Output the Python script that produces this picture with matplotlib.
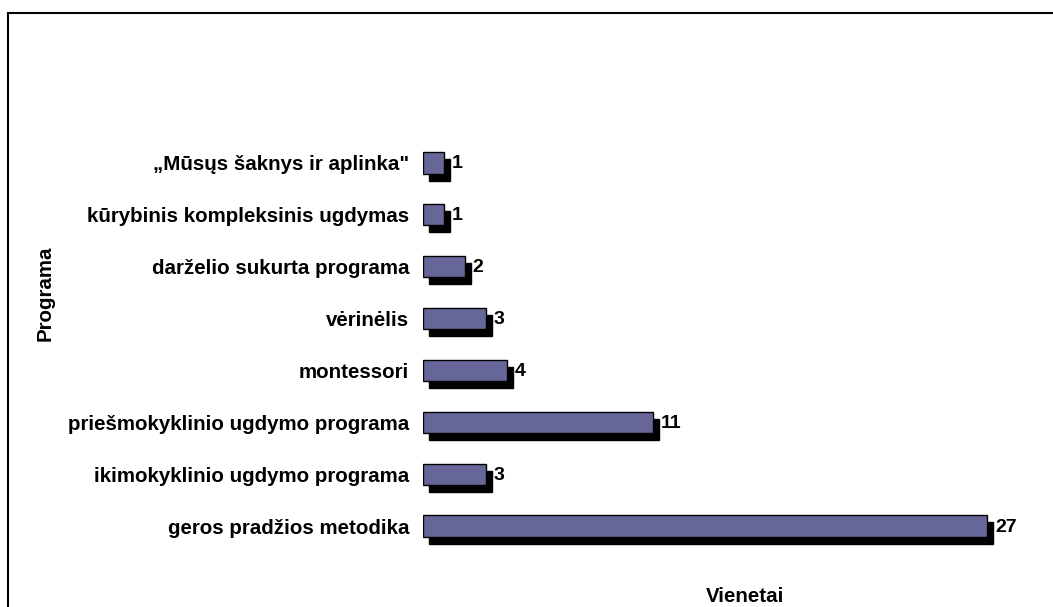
import matplotlib
matplotlib.use("Agg")
import matplotlib.pyplot as plt
import matplotlib.transforms as mtransforms
from matplotlib.patches import Rectangle

categories = [
    "geros pradžios metodika",
    "ikimokyklinio ugdymo programa",
    "priešmokyklinio ugdymo programa",
    "montessori",
    "vėrinėlis",
    "darželio sukurta programa",
    "kūrybinis kompleksinis ugdymas",
    "„Mūsųs šaknys ir aplinka\"",
]
values = [27, 3, 11, 4, 3, 2, 1, 1]
x_label = "Vienetai"
y_label = "Programa"

plt.rcParams['font.family'] = ['Liberation Sans', 'DejaVu Sans']

W, H = 1053, 607
fig = plt.figure(figsize=(W / 100, H / 100), dpi=100)

# outer frame (extends beyond image on right/bottom)
fig.patches.append(Rectangle((8 / W, -0.1), 1.2, 1 - 13 / H + 0.1,
                             transform=fig.transFigure, fill=False,
                             edgecolor='black', linewidth=1.5))

left_px, right_px = 423, 1008
top_px, bot_px = 137, 552
ax = fig.add_axes([left_px / W, 1 - bot_px / H, (right_px - left_px) / W, (bot_px - top_px) / H])

ypos = list(range(len(categories)))
bar_h = 0.41
shadow = mtransforms.ScaledTranslation(6 / 100, -7 / 100, fig.dpi_scale_trans)
ax.barh(ypos, values, height=bar_h, color='black', edgecolor='black',
        transform=ax.transData + shadow, zorder=1)
ax.barh(ypos, values, height=bar_h, color='#666699', edgecolor='black',
        linewidth=1.0, zorder=2)

lbl_off = mtransforms.ScaledTranslation(8 / 100, -1 / 100, fig.dpi_scale_trans)
for y, v in zip(ypos, values):
    ax.text(v, y, str(v), transform=ax.transData + lbl_off, ha='left', va='center',
            fontsize=14, fontweight='bold', color='black')

ax.set_xlim(0, 28)
ax.set_ylim(-0.5, len(categories) - 0.5)
ax.set_yticks(ypos)
ax.set_yticklabels(categories, fontsize=14.8, fontweight='bold')
ax.set_xticks([])
ax.tick_params(axis='y', length=0, pad=10)
for s in ax.spines.values():
    s.set_visible(False)
ax.patch.set_visible(False)

fig.text(745 / W, 1 - 597 / H, x_label, ha='center', va='center', fontsize=14.8, fontweight='bold')
fig.text(45 / W, 1 - 293 / H, y_label, ha='center', va='center', rotation=90, fontsize=14.8, fontweight='bold')

fig.savefig("out.png", dpi=100)
